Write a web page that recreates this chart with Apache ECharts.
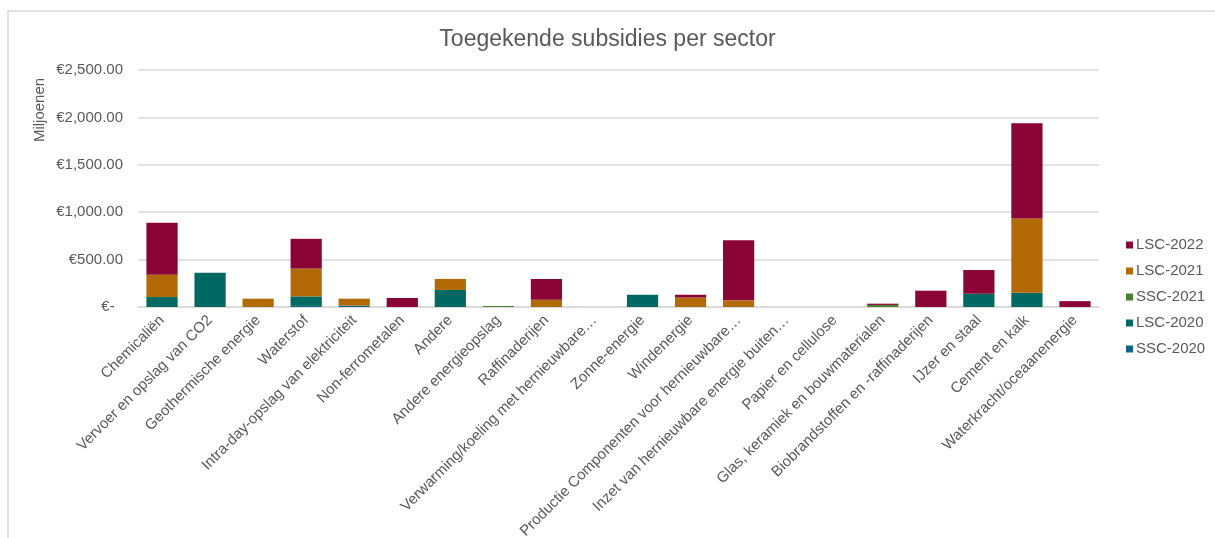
<!DOCTYPE html>
<html>
<head>
<meta charset="utf-8">
<script src="https://cdn.jsdelivr.net/npm/echarts@6/dist/echarts.min.js"></script>
<style>html,body{margin:0;padding:0;background:#fff;}#c{width:1215px;height:538px;}</style>
</head>
<body>
<div id="c"></div>
<script>
const categories = ["Chemicaliën","Vervoer en opslag van CO2","Geothermische energie","Waterstof","Intra-day-opslag van elektriciteit","Non-ferrometalen","Andere","Andere energieopslag","Raffinaderijen","Verwarming/koeling met hernieuwbare…","Zonne-energie","Windenergie","Productie Componenten voor hernieuwbare…","Inzet van hernieuwbare energie buiten…","Papier en cellulose","Glas, keramiek en bouwmaterialen","Biobrandstoffen en -raffinaderijen","IJzer en staal","Cement en kalk","Waterkracht/oceaanenergie"];
const SSC2020 = [0,0,0,12,15,0,0,0,0,0,0,0,0,0,0,0,0,0,0,0];
const LSC2020 = [105,360,0,100,0,0,180,0,0,0,130,0,0,0,0,0,0,140,150,0];
const SSC2021 = [0,0,0,0,0,0,0,10,0,0,0,0,0,0,0,22,0,0,0,0];
const LSC2021 = [235,0,88,293,73,0,116,0,77,0,0,100,70,0,0,0,0,0,783,0];
const LSC2022 = [550,0,0,314,0,95,0,0,219,0,0,30,634,0,0,13,172,250,1005,62];
const yTicks = [0,500,1000,1500,2000,2500];

const txt = '#595959';
const font = '"Liberation Sans", Arial, sans-serif';
const chart = echarts.init(document.getElementById('c'), null, {renderer:'canvas'});
function mk(name, data, color){
  return {name, type:'bar', stack:'s', data, barCategoryGap:'35%', itemStyle:{color}, emphasis:{disabled:true}};
}
chart.setOption({
  animation:false,
  textStyle:{fontFamily:font},
  title:{text:'Toegekende subsidies per sector', left:'center', top:23,
    textStyle:{fontFamily:font, fontSize:23, fontWeight:'normal', color:txt}},
  graphic:[
    {type:'rect', shape:{x:8, y:11, width:1400, height:700}, style:{fill:'none', stroke:'#d9d9d9', lineWidth:1.5}, silent:true},
    {type:'text', x:40, y:110, rotation:Math.PI/2, style:{text:'Miljoenen', fontFamily:font, fontSize:15, fill:txt, align:'center', verticalAlign:'middle'}}
  ],
  legend:{orient:'vertical', left:1121, top:232, itemWidth:7, itemHeight:7, itemGap:10,
    icon:'rect',
    textStyle:{fontFamily:font, fontSize:15, color:txt, lineHeight:16, padding:[0,0,0,-2]},
    data:['LSC-2022','LSC-2021','SSC-2021','LSC-2020','SSC-2020']},
  grid:{left:138, right:116, top:70, bottom:231, containLabel:false, outerBoundsMode:'none'},
  xAxis:{type:'category', data:categories,
    axisLine:{lineStyle:{color:'#d9d9d9', width:1.5}}, axisTick:{show:false},
    axisLabel:{interval:0, rotate:45, color:txt, fontSize:15, fontFamily:font, margin:11}},
  yAxis:{type:'value', min:yTicks[0], max:yTicks[yTicks.length-1], interval:500,
    axisLine:{show:false}, axisTick:{show:false},
    splitLine:{lineStyle:{color:'#d9d9d9', width:1.5}},
    axisLabel:{color:txt, fontSize:15, fontFamily:font, margin:15,
      formatter:v => v===0 ? '€-  ' : '€' + v.toLocaleString('en-US',{minimumFractionDigits:2, maximumFractionDigits:2})}},
  series:[
    mk('SSC-2020', SSC2020, '#0d6484'),
    mk('LSC-2020', LSC2020, '#006a62'),
    mk('SSC-2021', SSC2021, '#4a7f2f'),
    mk('LSC-2021', LSC2021, '#b26a07'),
    mk('LSC-2022', LSC2022, '#8a0535')
  ]
});
</script>
</body>
</html>
